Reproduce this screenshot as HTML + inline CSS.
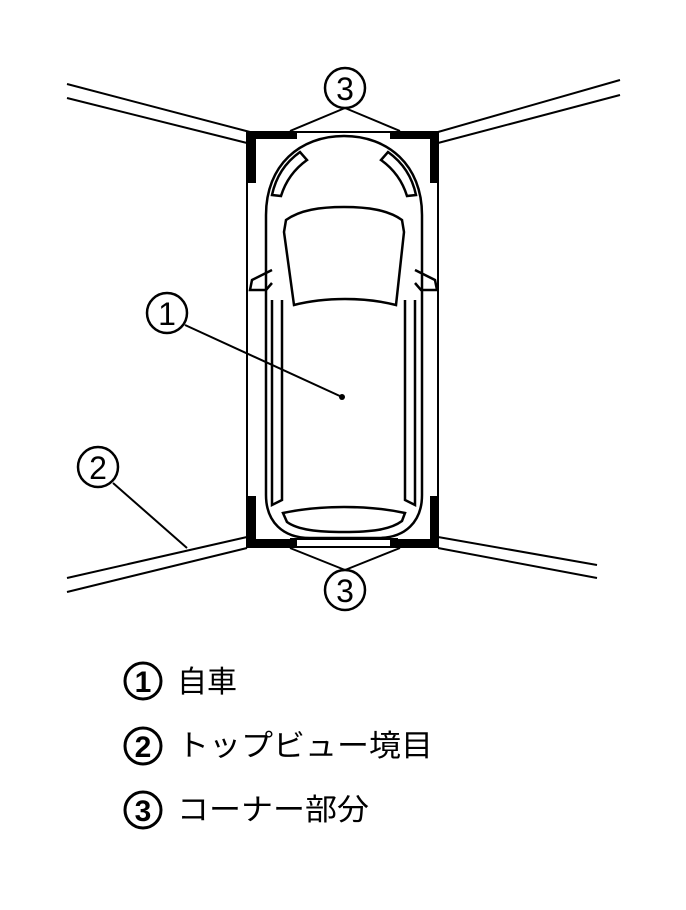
<!DOCTYPE html>
<html><head><meta charset="utf-8"><style>
html,body{margin:0;padding:0;background:#fff;}
svg{display:block}
text{font-family:"Liberation Sans","Noto Sans CJK JP",sans-serif;fill:#000}
</style></head><body>
<svg width="686" height="910" viewBox="0 0 686 910" xmlns="http://www.w3.org/2000/svg">
<g fill="none" stroke="#000" stroke-width="2">
  <line x1="67" y1="84" x2="250" y2="132"/>
  <line x1="67" y1="98" x2="247" y2="143"/>
  <line x1="438" y1="132" x2="620" y2="80"/>
  <line x1="438" y1="143" x2="620" y2="95"/>
  <line x1="247" y1="537" x2="67" y2="578"/>
  <line x1="247" y1="548" x2="67" y2="592"/>
  <line x1="438" y1="537" x2="597" y2="565"/>
  <line x1="438" y1="548" x2="597" y2="578"/>
  <rect x="247" y="132" width="191" height="415"/>
  <line x1="290" y1="539" x2="398" y2="539"/>
  <line x1="185" y1="325" x2="342" y2="397"/>
  <line x1="113" y1="483" x2="187" y2="548"/>
  <line x1="345" y1="108" x2="290" y2="131"/>
  <line x1="345" y1="108" x2="400" y2="131"/>
  <line x1="345" y1="570" x2="290" y2="548"/>
  <line x1="345" y1="570" x2="400" y2="548"/>
</g>
<g fill="none" stroke="#000" stroke-width="2.5">
  <path d="M266,215 C266,165 300,136 344,136 C388,136 422,165 422,215 L422,495 C422,522 405,538 378,538 L310,538 C283,538 266,522 266,495 Z"/>
  <path d="M272,300 L272,505 L282,500 L282,300"/>
  <path d="M415,300 L415,505 L405,500 L405,300"/>
  <path d="M284,232 L286,220 C300,210 320,207 344,207 C368,207 388,210 402,220 L404,232 L396,305 C365,297 325,297 294,305 Z"/>
  <path d="M272,270 L252,280 L250,290 L266,290 L272,283"/>
  <path d="M415,270 L435,280 L437,290 L421,290 L415,283"/>
  <path d="M300,152 C286,162 276,176 272,195 L281,196 C285,183 293,170 307,160 Z"/>
  <path d="M388,152 C402,162 412,176 416,195 L407,196 C403,183 395,170 381,160 Z"/>
  <path d="M283,513 C320,505 368,505 405,513 L402,521 C390,530 370,532 344,532 C318,532 298,530 287,522 Z"/>
  <circle cx="345" cy="88" r="20"/>
  <circle cx="345" cy="590" r="20"/>
  <circle cx="167" cy="313" r="20"/>
  <circle cx="98" cy="467" r="20"/>
  <circle cx="143" cy="681" r="18" stroke-width="3"/>
  <circle cx="143" cy="746" r="18" stroke-width="3"/>
  <circle cx="143" cy="810" r="18" stroke-width="3"/>
</g>
<g fill="#000">
  <rect x="248" y="131" width="49" height="8"/>
  <rect x="248" y="131" width="8" height="52"/>
  <rect x="390" y="131" width="48" height="8"/>
  <rect x="430" y="131" width="8" height="52"/>
  <rect x="248" y="539" width="49" height="8"/>
  <rect x="248" y="496" width="8" height="51"/>
  <rect x="390" y="539" width="48" height="8"/>
  <rect x="430" y="496" width="8" height="51"/>
  <circle cx="342" cy="397" r="3"/>
</g>
<g font-size="32" text-anchor="middle">
  <text x="345" y="100">3</text>
  <text x="345" y="602">3</text>
  <text x="167" y="325">1</text>
  <text x="98" y="479">2</text>
</g>
<g font-size="30" text-anchor="middle" font-weight="bold">
  <text x="143" y="692">1</text>
  <text x="143" y="757">2</text>
  <text x="143" y="821">3</text>
</g>
<g font-size="30">
  <text x="177" y="692">自車</text>
  <text x="177" y="756" textLength="256" lengthAdjust="spacingAndGlyphs">トップビュー境目</text>
  <text x="177" y="820" textLength="192" lengthAdjust="spacingAndGlyphs">コーナー部分</text>
</g>
</svg>
</body></html>
